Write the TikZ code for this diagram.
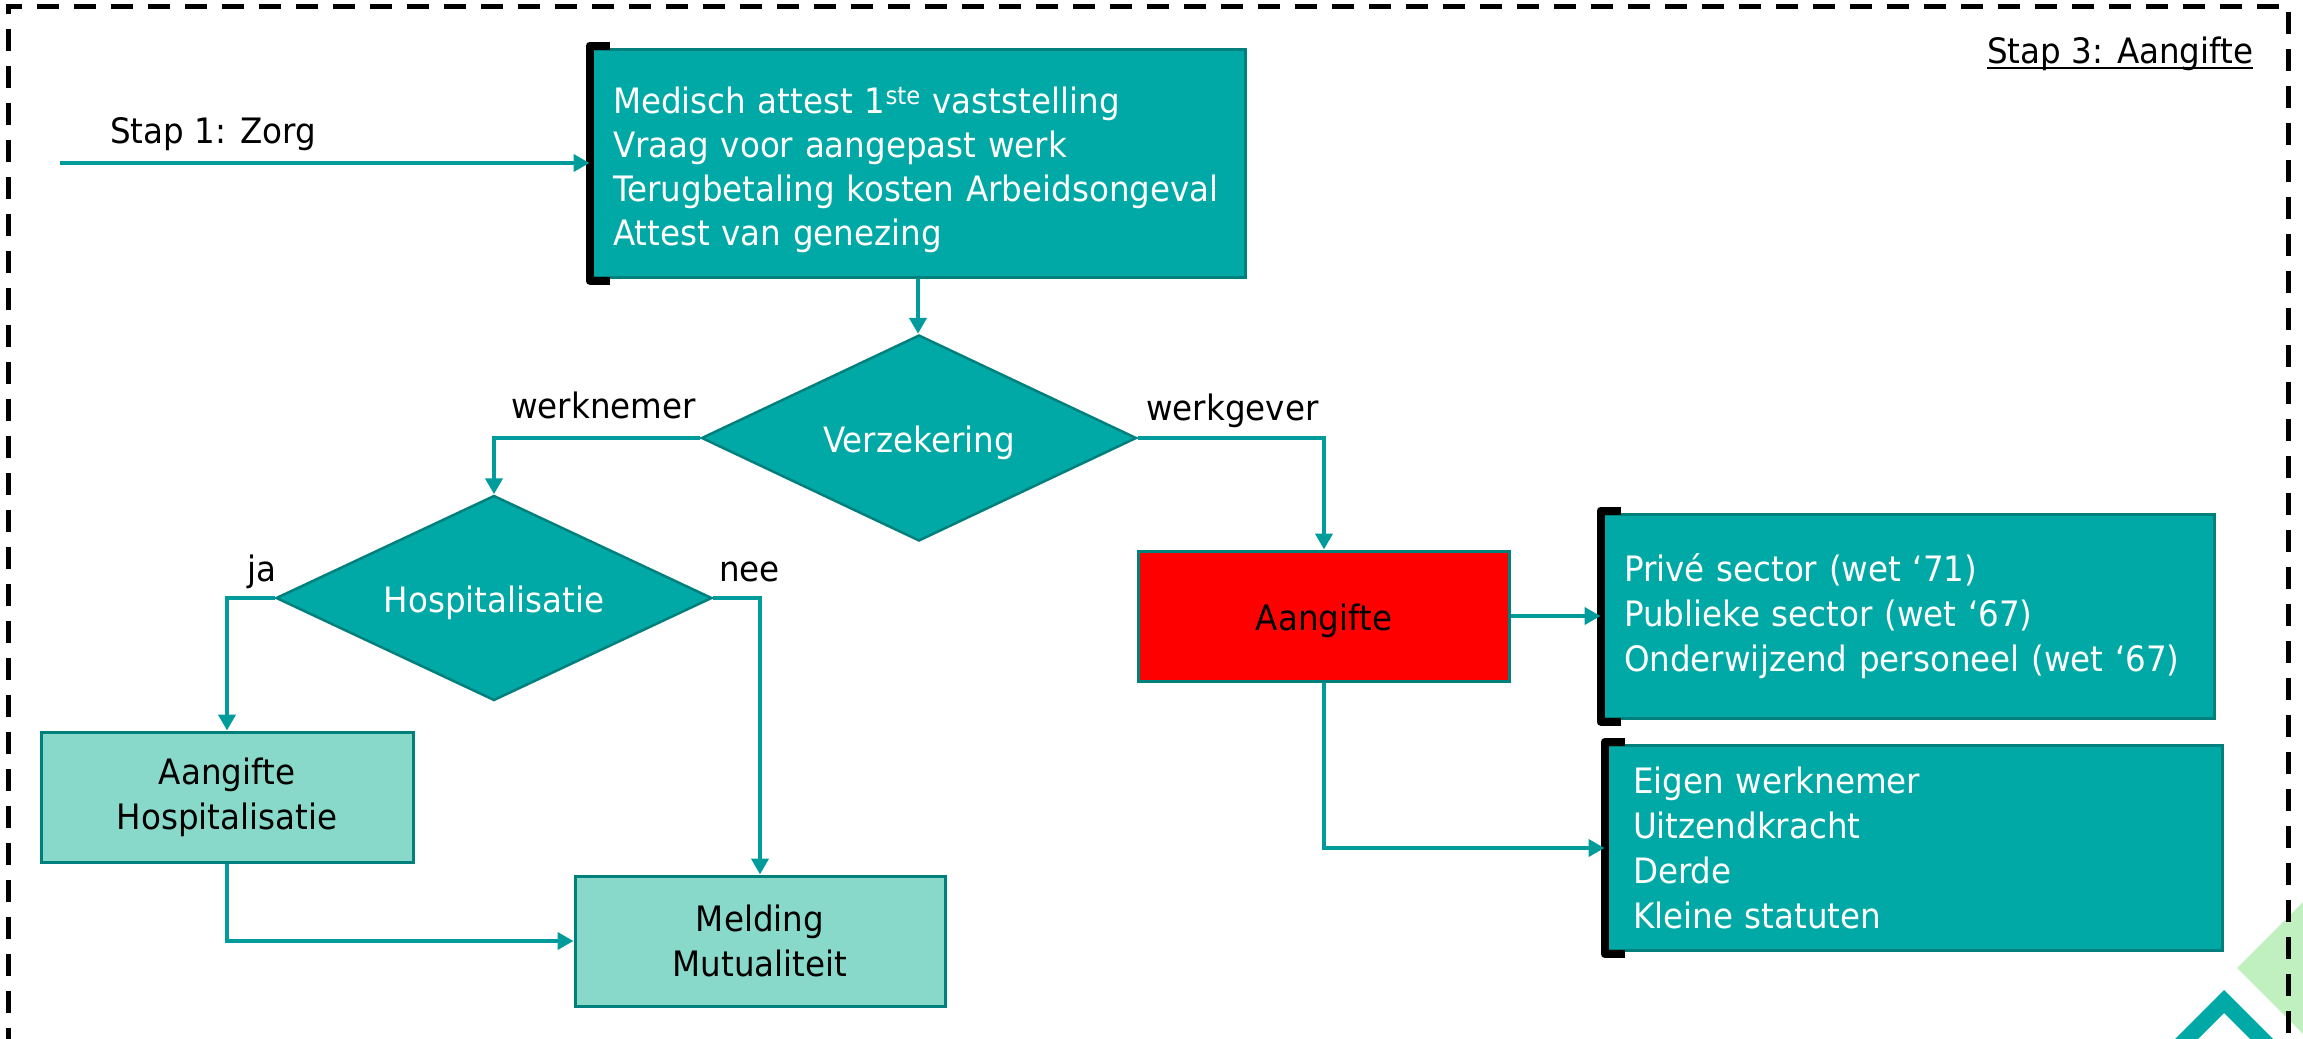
\documentclass[tikz,border=0pt]{standalone}
\usepackage{fontspec}
\setmainfont[FakeStretch=0.93]{DejaVu Sans}
\usetikzlibrary{shapes.geometric,arrows.meta}
\definecolor{tealfill}{HTML}{00A9A5}
\definecolor{tealline}{HTML}{009B9B}
\definecolor{tealborder}{HTML}{00807C}
\definecolor{lightfill}{HTML}{88D9C9}
\definecolor{lightgreen}{HTML}{C0F0C0}
\begin{document}
\begin{tikzpicture}[x=1pt,y=-1pt,
  font=\fontsize{35}{45}\selectfont,
  box/.style={rectangle, draw=tealborder, line width=3pt, inner sep=0pt},
  tealbox/.style={box, fill=tealfill, text=white, align=left, inner xsep=22pt},
  lightbox/.style={box, fill=lightfill, text=black, align=center},
  redbox/.style={box, fill=red, text=black, text height=29pt, text depth=0pt},
  decision/.style={diamond, draw=tealborder, line width=2.5pt, fill=tealfill, text=white, inner sep=0pt, aspect=2.1, text height=29pt, text depth=0pt},
  conn/.style={draw=tealline, line width=4pt},
  arr/.style={conn, -{Triangle[length=16pt,width=17pt]}},
  lbl/.style={inner sep=0pt, text=black},
  bracket/.style={draw=black, line width=8pt, line join=round}]
\useasboundingbox (0,0) rectangle (2303,1039);
\begin{scope}
\clip (0,0) rectangle (2303,1039);
% decorations
\fill[lightgreen] (2237,968) -- (2320,885) -- (2320,1051) -- cycle;
\fill[tealfill] (2164,1050) -- (2224,990) -- (2284,1050) -- (2261,1050) -- (2224,1013) -- (2187,1050) -- cycle;
% dashed frame
\draw[black, line width=5pt, dash pattern=on 22pt off 15pt] (8,1050) -- (8,6) -- (2288,6) -- (2288,1050);
\end{scope}

% nodes
\node[tealbox, text width=610pt, minimum height=228pt, font=\fontsize{35}{44}\selectfont] (top) at (918,163)
  {\rule{0pt}{40pt}Medisch attest 1\textsuperscript{ste} vaststelling\\Vraag voor aangepast werk\\Terugbetaling kosten Arbeidsongeval\\Attest van genezing};
\node[decision, minimum width=435pt, minimum height=206pt] (verz) at (919,438) {Verzekering};
\node[decision, minimum width=436pt, minimum height=205pt] (hosp) at (494,598) {Hospitalisatie};
\node[lightbox, minimum width=372pt, minimum height=130pt] (ah) at (227,797) {Aangifte\\Hospitalisatie};
\node[lightbox, minimum width=370pt, minimum height=130pt] (mel) at (760,941) {Melding\\Mutualiteit};
\node[redbox, minimum width=371pt, minimum height=130pt] (red) at (1324,616) {Aangifte};
\node[tealbox, text width=568pt, minimum height=204pt] (prive) at (1908,616)
  {Privé sector (wet ‘71)\\Publieke sector (wet ‘67)\\Onderwijzend personeel (wet ‘67)};
\node[tealbox, inner xsep=27pt, text width=562pt, minimum height=205pt] (eigen) at (1914,848)
  {Eigen werknemer\\Uitzendkracht\\Derde\\Kleine statuten};

% brackets
\draw[bracket] ([xshift=20pt,yshift=2pt]top.north west) -- ([yshift=2pt]top.north west) -- ([yshift=-2pt]top.south west) -- ([xshift=20pt,yshift=-2pt]top.south west);
\draw[bracket] ([xshift=20pt,yshift=2pt]prive.north west) -- ([yshift=2pt]prive.north west) -- ([yshift=-2pt]prive.south west) -- ([xshift=20pt,yshift=-2pt]prive.south west);
\draw[bracket] ([xshift=20pt,yshift=2pt]eigen.north west) -- ([yshift=2pt]eigen.north west) -- ([yshift=-2pt]eigen.south west) -- ([xshift=20pt,yshift=-2pt]eigen.south west);

% labels
\node[lbl, anchor=base west] (stap1) at (110,143) {Stap 1: Zorg};
\node[lbl, anchor=base west] (stap3) at (1987,63) {Stap 3: Aangifte};
\draw[line width=2.5pt] ([yshift=-5pt]stap3.base west) -- ([yshift=-5pt]stap3.base east);
\node[lbl, anchor=base west] (lwn) at (511,418) {werknemer};
\node[lbl, anchor=base west] (lwg) at (1146,420) {werkgever};
\node[lbl, anchor=base west] (lja) at (247,581) {ja};
\node[lbl, anchor=base west] (lnee) at (719,581) {nee};

% connectors
\coordinate (s1) at (60,163);
\draw[arr] (s1) -- (top.west);
\draw[arr] (top.south) -- (top.south |- verz.north);
\draw[arr] (verz.west) -| (hosp.north);
\draw[arr] (verz.east) -| (red.north);
\draw[arr] (hosp.west) -| (ah.north);
\draw[arr] (hosp.east) -| (mel.north);
\draw[arr] (ah.south) |- (mel.west);
\draw[arr] (red.east) -- (prive.west);
\draw[arr] (red.south) |- (eigen.west);
\end{tikzpicture}
\end{document}
